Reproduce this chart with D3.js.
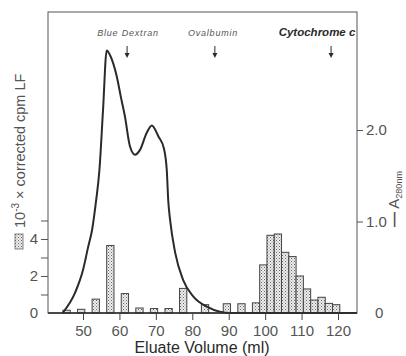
<!DOCTYPE html>
<html>
<head>
<meta charset="utf-8">
<script src="https://cdn.jsdelivr.net/npm/d3@7"></script>
<style>
  html, body { margin: 0; padding: 0; background: #fff; }
  svg { display: block; font-family: "Liberation Sans", Arial, sans-serif; }
</style>
</head>
<body>
<svg id="chart" width="406" height="356"></svg>
<script>
// fraction centres (ml) and 10^-3 x corrected cpm LF
const fractionVolumes = [45.5, 49.5, 53.5, 57.5, 61.5, 65.5, 69.5, 73.5, 77.5, 83.5,
  89.5, 93.5, 97.5, 99.5, 101.5, 103.5, 105.5, 107.5, 109.5, 111.5, 113.5, 115.5, 117.5, 119.5];
const cpmValues = [0.15, 0.2, 0.75, 3.65, 1.05, 0.27, 0.24, 0.24, 1.33, 0.45,
  0.5, 0.5, 0.55, 2.6, 4.2, 4.27, 3.28, 3.05, 2.0, 1.3, 0.7, 0.85, 0.52, 0.45];

// A280 trace
const a280Volumes = [44.4, 47.8, 50.0, 51.4, 52.5, 53.6, 54.5, 55.5, 56.5, 57.4, 59.3, 60.4,
  61.5, 62.9, 64.3, 65.6, 67.5, 68.9, 70.7, 72.2, 73.0, 73.4, 73.9, 75.3, 77.5, 80.3,
  84.0, 87.6, 90.4, 125.2];
const a280Values = [0, 0.22, 0.47, 0.72, 0.91, 1.23, 1.56, 2.22, 2.87, 2.82, 2.58, 2.36,
  2.15, 1.82, 1.73, 1.78, 1.97, 2.05, 1.93, 1.80, 1.56, 1.23, 1.02, 0.66, 0.36, 0.18,
  0.07, 0.014, 0, 0];

const markerNames = ["Blue Dextran", "Ovalbumin", "Cytochrome c"];
const markerVolumes = [62.1, 86.2, 118.1];

const xTicks = [50, 60, 70, 80, 90, 100, 110, 120];
const leftTicks = [1, 2, 3, 4, 5];
const leftLabels = [0, 2, 4];
const rightTicks = [1, 2];
const rightLabels = ["0", "1.0", "2.0"];
const rightLabelValues = [0, 1, 2];

const fractionWidth = 2;

const mLeft = 48, mRight = 357, mTop = 12, mBottom = 313;
const ink = "#2a2a2a", grey = "#555";

const svg = d3.select("#chart");

const x = d3.scaleLinear().domain([40.39, 125.22]).range([mLeft, mRight]);
const yCpm = d3.scaleLinear().domain([0, 16.27]).range([mBottom, mTop]);
const yA = d3.scaleLinear().domain([0, 3.29]).range([mBottom, mTop]);

// stipple pattern for the bars
const defs = svg.append("defs");
const pat = defs.append("pattern")
  .attr("id", "stipple")
  .attr("patternUnits", "userSpaceOnUse")
  .attr("width", 3).attr("height", 3);
pat.append("rect").attr("width", 3).attr("height", 3).attr("fill", "#eee");
pat.append("rect").attr("x", 0).attr("y", 0).attr("width", 1).attr("height", 1).attr("fill", "#666");
pat.append("rect").attr("x", 1.5).attr("y", 1.5).attr("width", 1).attr("height", 1).attr("fill", "#888");

// bars
const bars = fractionVolumes.map((v, i) => ({ v, c: cpmValues[i] }));
svg.append("g")
  .selectAll("rect")
  .data(bars)
  .join("rect")
  .attr("x", (d) => x(d.v - fractionWidth / 2))
  .attr("width", (d) => x(d.v + fractionWidth / 2) - x(d.v - fractionWidth / 2))
  .attr("y", (d) => yCpm(d.c))
  .attr("height", (d) => yCpm(0) - yCpm(d.c))
  .attr("fill", "url(#stipple)")
  .attr("stroke", "#444")
  .attr("stroke-width", 1);

// A280 curve
const pts = a280Volumes.map((v, i) => [v, a280Values[i]]);
const line = d3.line()
  .x((d) => x(d[0]))
  .y((d) => yA(d[1]))
  .curve(d3.curveMonotoneX);
svg.append("path")
  .datum(pts)
  .attr("d", line)
  .attr("fill", "none")
  .attr("stroke", ink)
  .attr("stroke-width", 2);

// frame
svg.append("rect")
  .attr("x", mLeft).attr("y", mTop)
  .attr("width", mRight - mLeft).attr("height", mBottom - mTop)
  .attr("fill", "none")
  .attr("stroke", "#555")
  .attr("stroke-width", 1);
svg.append("line")
  .attr("x1", mLeft).attr("x2", mRight)
  .attr("y1", mBottom).attr("y2", mBottom)
  .attr("stroke", ink).attr("stroke-width", 1.5);

// x axis
const xAxis = svg.append("g").attr("transform", `translate(0,${mBottom})`)
  .call(d3.axisBottom(x).tickValues(xTicks).tickSize(7).tickPadding(5));
xAxis.select(".domain").remove();
xAxis.selectAll("line").attr("stroke", "#444");
xAxis.selectAll("text").attr("font-size", 15).attr("fill", grey);

svg.append("text")
  .attr("x", 202).attr("y", 353)
  .attr("text-anchor", "middle")
  .attr("font-size", 16)
  .attr("fill", ink)
  .text("Eluate Volume (ml)");

// left axis
const yl = svg.append("g").attr("transform", `translate(${mLeft},0)`)
  .call(d3.axisLeft(yCpm).tickValues(leftTicks).tickSize(7).tickFormat(""));
yl.select(".domain").remove();
yl.selectAll("line").attr("stroke", "#555");
svg.append("g")
  .selectAll("text")
  .data(leftLabels)
  .join("text")
  .attr("x", 38)
  .attr("y", (d) => yCpm(d))
  .attr("dy", "0.35em")
  .attr("text-anchor", "end")
  .attr("font-size", 15)
  .attr("fill", grey)
  .text((d) => d);

// left title with stipple key
const lt = svg.append("g").attr("transform", "translate(25,228) rotate(-90)");
lt.append("text")
  .attr("x", 0).attr("y", 0)
  .attr("font-size", 14.5)
  .attr("fill", grey)
  .html('10<tspan dy="-6" font-size="10">-3</tspan><tspan dy="6"> × corrected cpm LF</tspan>');
svg.append("rect")
  .attr("x", 15).attr("y", 234)
  .attr("width", 8).attr("height", 15)
  .attr("fill", "url(#stipple)")
  .attr("stroke", "#666")
  .attr("stroke-width", 0.8);

// right axis
const yr = svg.append("g").attr("transform", `translate(${mRight},0)`)
  .call(d3.axisRight(yA).tickValues(rightTicks).tickSize(6).tickFormat(""));
yr.select(".domain").remove();
yr.selectAll("line").attr("stroke", "#555");
svg.append("g")
  .selectAll("text")
  .data(rightLabelValues)
  .join("text")
  .attr("x", (d, i) => (i === 0 ? 375 : 366))
  .attr("y", (d) => yA(d))
  .attr("dy", "0.35em")
  .attr("font-size", 15)
  .attr("fill", grey)
  .text((d, i) => rightLabels[i]);

// right title
const rt = svg.append("g").attr("transform", "translate(399,227) rotate(-90)");
rt.append("text")
  .attr("font-size", 15)
  .attr("fill", grey)
  .html('<tspan font-weight="bold">—</tspan> A<tspan dy="3" font-size="9">280nm</tspan>');

// markers
const markers = markerNames.map((n, i) => ({ n, v: markerVolumes[i] }));
const labelX = [128, 213, 317];
const mk = svg.append("g");
mk.selectAll("text")
  .data(markers)
  .join("text")
  .attr("x", (d, i) => labelX[i])
  .attr("y", 36)
  .attr("text-anchor", "middle")
  .attr("font-style", "italic")
  .attr("font-weight", (d, i) => (i === 2 ? "bold" : "normal"))
  .attr("font-size", (d, i) => (i === 2 ? 11.5 : 9))
  .attr("letter-spacing", (d, i) => (i === 2 ? 0 : 0.8))
  .attr("fill", (d, i) => (i === 2 ? ink : grey))
  .text((d) => d.n);
mk.selectAll("line")
  .data(markers)
  .join("line")
  .attr("x1", (d) => x(d.v)).attr("x2", (d) => x(d.v))
  .attr("y1", 46).attr("y2", 55)
  .attr("stroke", ink).attr("stroke-width", 1);
mk.selectAll("path")
  .data(markers)
  .join("path")
  .attr("d", (d) => `M${x(d.v) - 2.5},53 L${x(d.v) + 2.5},53 L${x(d.v)},58 Z`)
  .attr("fill", ink);
</script>
</body>
</html>
